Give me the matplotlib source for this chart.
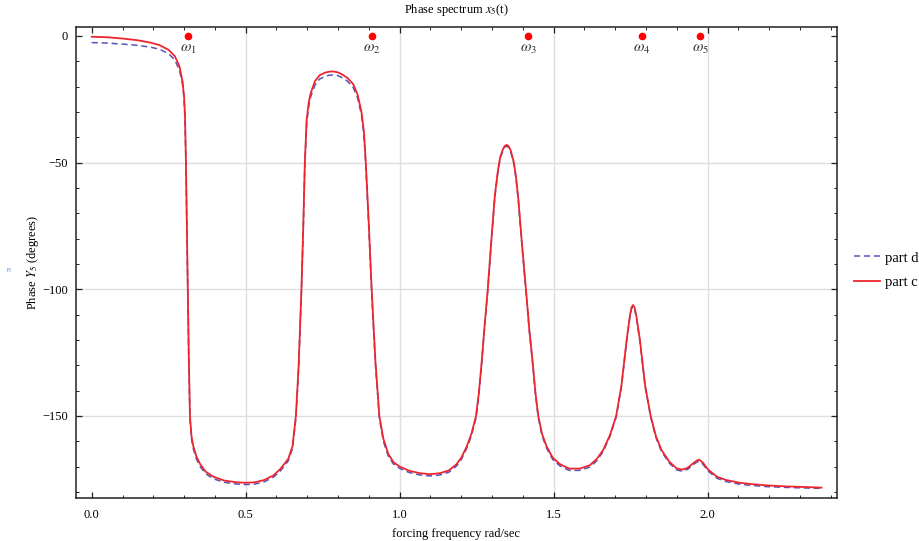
import matplotlib
matplotlib.use("Agg")
import matplotlib.pyplot as plt
from matplotlib.ticker import MultipleLocator

# ---- data ----
freq = [0.0, 0.05, 0.10, 0.15, 0.19, 0.22, 0.25, 0.27, 0.285, 0.295,
        0.300, 0.303, 0.306, 0.309, 0.312, 0.315, 0.319, 0.324, 0.330, 0.340,
        0.352, 0.37, 0.395, 0.43, 0.47, 0.50, 0.53, 0.56, 0.59, 0.612,
        0.638, 0.652, 0.663, 0.672, 0.681, 0.687, 0.692, 0.698, 0.705, 0.711,
        0.725, 0.740, 0.757, 0.770, 0.784, 0.798, 0.811, 0.830, 0.849, 0.863,
        0.876, 0.884, 0.890, 0.900, 0.909, 0.921, 0.934, 0.947, 0.963, 0.980,
        1.0, 1.03, 1.065, 1.10, 1.131, 1.16, 1.185, 1.20, 1.218, 1.233,
        1.248, 1.257, 1.266, 1.276, 1.286, 1.298, 1.309, 1.318, 1.326, 1.335,
        1.341, 1.347, 1.353, 1.36, 1.371, 1.378, 1.385, 1.397, 1.41, 1.421,
        1.432, 1.441, 1.45, 1.462, 1.477, 1.497, 1.52, 1.55, 1.585, 1.617,
        1.64, 1.661, 1.683, 1.703, 1.720, 1.737, 1.748, 1.753, 1.758, 1.763,
        1.769, 1.78, 1.797, 1.815, 1.832, 1.85, 1.875, 1.899, 1.916, 1.935,
        1.955, 1.965, 1.973, 1.985, 2.0, 2.03, 2.06, 2.105, 2.15, 2.19,
        2.25, 2.30, 2.37]

phase_c = [-0.3, -0.5, -1.0, -1.7, -2.6, -3.6, -5.5, -8, -12, -18,
           -24, -32, -50, -75, -100, -125, -150, -158, -162, -166,
           -169, -172, -174, -175.5, -176.2, -176.4, -176.2, -175.3, -173.5, -171,
           -167, -162, -150, -130, -100, -75, -50, -33, -26, -22.6,
           -17.8, -15.5, -14.5, -14.1, -14.0, -14.3, -15.0, -16.5, -19, -23,
           -30, -38, -50, -75, -100, -128, -150, -159, -165, -168.3,
           -170, -171.6, -172.6, -173, -172.6, -171.5, -169, -166.5, -162, -157,
           -150, -141, -129, -114, -100, -80, -63, -54, -48, -44.8,
           -43.4, -43.0, -43.4, -45, -50, -56, -64, -82, -100, -116,
           -129, -141, -150, -157, -162, -166.5, -169, -170.8, -170.8, -169.5,
           -167, -163.4, -157.5, -150, -138, -120, -110, -107.1, -106.2, -107.3,
           -111, -120, -138, -150, -158, -163.4, -168, -170.7, -171.2, -170.5,
           -168.5, -167.6, -167.3, -168.5, -171, -174, -175.3, -176.4, -177, -177.4,
           -177.8, -178.0, -178.3]

phase_d = [-2.6, -2.8, -3.2, -3.7, -4.4, -5.2, -7.0, -9.5, -13.5, -19,
           -25, -33, -51, -76, -101, -126, -151, -159, -163, -167,
           -170, -172.8, -174.8, -176.2, -176.9, -177.1, -176.9, -176, -174.2, -171.8,
           -167.8, -162.8, -151, -131, -101, -76, -51, -34.5, -27.5, -24,
           -19.3, -17, -16, -15.5, -15.4, -15.6, -16.3, -17.8, -20.3, -24.3,
           -31.2, -39, -51, -76, -101, -129, -151, -160, -165.8, -169,
           -170.7, -172.3, -173.3, -173.7, -173.3, -172.2, -169.7, -167.2, -162.7, -157.7,
           -150.7, -141.7, -129.7, -114.7, -100.6, -80.6, -63.6, -54.6, -48.6, -45.3,
           -43.9, -43.5, -43.9, -45.5, -50.6, -56.6, -64.6, -82.6, -100.6, -116.6,
           -129.6, -141.6, -150.6, -157.7, -162.7, -167.2, -169.7, -171.5, -171.5, -170.2,
           -167.7, -164, -158, -150.5, -138.5, -120.5, -110.5, -107.6, -106.7, -107.8,
           -111.5, -120.5, -138.5, -150.5, -158.5, -164, -168.6, -171.3, -171.8, -171.1,
           -169.1, -168.2, -167.9, -169.1, -171.6, -174.6, -175.9, -177, -177.5, -177.9,
           -178.2, -178.4, -178.6]

omega_freqs = [0.3136, 0.910, 1.4176, 1.7857, 1.976]
omega_labels = [r"$\omega_1$", r"$\omega_2$", r"$\omega_3$", r"$\omega_4$", r"$\omega_5$"]
omega_phase = [0, 0, 0, 0, 0]

xticks = [0.0, 0.5, 1.0, 1.5, 2.0]
xticklabels = ["0.0", "0.5", "1.0", "1.5", "2.0"]
yticks = [0, -50, -100, -150]
yticklabels = ["0", "\u221250", "\u2212100", "\u2212150"]

# ---- figure ----
plt.rcParams['font.family'] = ['Liberation Serif', 'DejaVu Serif']
plt.rcParams['mathtext.fontset'] = 'stix'

fig = plt.figure(figsize=(9.2, 5.41), dpi=100)
ax = fig.add_axes([76/920, 1-498/541, (837-76)/920, (498-27)/541])

for v in [0.5, 1.0, 1.5, 2.0]:
    ax.axvline(v, color='#dedede', lw=1.0, zorder=0)
for v in [-50, -100, -150]:
    ax.axhline(v, color='#dedede', lw=1.0, zorder=0)

ld, = ax.plot(freq, phase_d, color=(0.33, 0.33, 0.72), lw=1.1, ls=(0, (4, 2.5)),
              label='part d', zorder=2)
lc, = ax.plot(freq, phase_c, color=(0.93, 0.15, 0.18), lw=1.3, label='part c', zorder=3)

ax.plot(omega_freqs, omega_phase, 'o', color='red', ms=5.5, mec='none', zorder=4, clip_on=False)
for f, p, lab in zip(omega_freqs, omega_phase, omega_labels):
    ax.annotate(lab, (f, p), xytext=(0, -10), textcoords='offset points',
                ha='center', va='center', fontsize=11, color='#333333')

ax.set_xlim(-0.051, 2.42)
ax.set_ylim(-182.4, 3.55)
ax.set_xticks(xticks)
ax.set_xticklabels(xticklabels)
ax.set_yticks(yticks)
ax.set_yticklabels(yticklabels)
ax.xaxis.set_minor_locator(MultipleLocator(0.1))
ax.yaxis.set_minor_locator(MultipleLocator(10))
ax.tick_params(which='both', direction='in', top=True, right=True, labelsize=9, color='#222222')
ax.tick_params(which='major', length=4.5, width=0.9)
ax.tick_params(which='minor', length=2.5, width=0.7)
ax.tick_params(axis='x', pad=8)
ax.tick_params(axis='y', pad=6)
for s in ax.spines.values():
    s.set_linewidth(1.1)
    s.set_color('#222222')

ax.set_title(r"Phase spectrum $x_5$(t)", fontsize=9, pad=10)
ax.set_xlabel("forcing frequency rad/sec", fontsize=9, labelpad=5)
ax.set_ylabel(r"Phase $Y_5$ (degrees)", fontsize=9, labelpad=0.5)
fig.text(10/920, 1-269/541, "\u03c0", color=(0.35, 0.55, 0.85), fontsize=6,
         rotation=90, ha='center', va='center')

leg = ax.legend(handles=[ld, lc], loc='center left',
                bbox_to_anchor=(854/920, 1-270/541), bbox_transform=fig.transFigure,
                frameon=False, fontsize=10.5, handlelength=1.8, handletextpad=0.3,
                labelspacing=0.75, borderpad=0, borderaxespad=0)

fig.savefig("out.png", dpi=100)
